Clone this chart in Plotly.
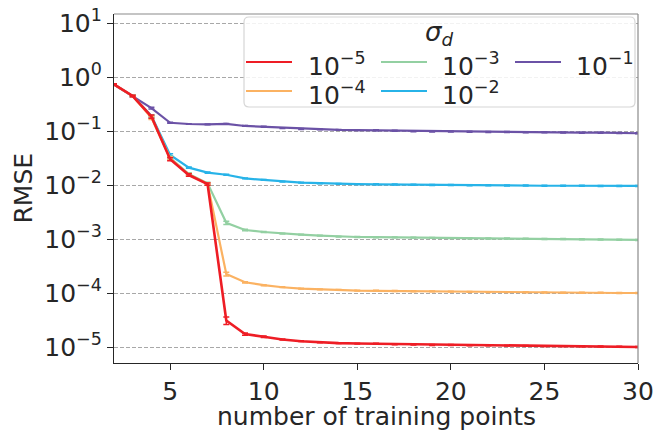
import plotly.graph_objects as go

# Training-set sizes
n_points = list(range(2, 31))

# RMSE per noise level sigma_d (mean over repeats) and its spread
rmse_1e5 = [0.73, 0.445, 0.185, 0.030, 0.0153, 0.0104, 3.1e-5, 1.74e-5, 1.55e-5, 1.38e-5,
            1.28e-5, 1.22e-5, 1.18e-5, 1.16e-5, 1.15e-5, 1.12e-5, 1.11e-5, 1.09e-5, 1.09e-5,
            1.07e-5, 1.08e-5, 1.06e-5, 1.05e-5, 1.04e-5, 1.04e-5, 1.03e-5, 1.02e-5, 1.01e-5, 1.00e-5]
rmse_1e4 = [0.73, 0.445, 0.175, 0.031, 0.0155, 0.0105, 2.25e-4, 1.58e-4, 1.40e-4, 1.28e-4,
            1.21e-4, 1.17e-4, 1.14e-4, 1.11e-4, 1.10e-4, 1.09e-4, 1.08e-4, 1.07e-4, 1.06e-4,
            1.05e-4, 1.04e-4, 1.04e-4, 1.03e-4, 1.02e-4, 1.01e-4, 1.01e-4, 1.01e-4, 1.00e-4, 1.00e-4]
rmse_1e3 = [0.73, 0.445, 0.185, 0.032, 0.016, 0.0108, 2.0e-3, 1.47e-3, 1.35e-3, 1.26e-3,
            1.21e-3, 1.16e-3, 1.11e-3, 1.09e-3, 1.08e-3, 1.07e-3, 1.06e-3, 1.05e-3, 1.04e-3,
            1.03e-3, 1.02e-3, 1.02e-3, 1.01e-3, 1.00e-3, 1.00e-3, 0.99e-3, 0.98e-3, 0.97e-3, 0.96e-3]
rmse_1e2 = [0.73, 0.445, 0.19, 0.036, 0.021, 0.017, 0.0155, 0.0133, 0.0124, 0.0116,
            0.0111, 0.0108, 0.0105, 0.0104, 0.0103, 0.0102, 0.0101, 0.0100, 0.0100,
            0.0099, 0.0099, 0.0098, 0.0098, 0.0097, 0.0097, 0.0097, 0.0096, 0.0096, 0.0096]
rmse_1e1 = [0.73, 0.445, 0.265, 0.142, 0.135, 0.133, 0.136, 0.124, 0.120, 0.113,
            0.109, 0.107, 0.105, 0.104, 0.103, 0.101, 0.099, 0.098, 0.098,
            0.097, 0.096, 0.096, 0.095, 0.095, 0.094, 0.093, 0.093, 0.092, 0.091]

err_1e5 = [0.02, 0.015, 0.012, 0.002, 0.0008, 0.0005, 0.5e-5, 0.8e-6, 0.5e-6, 0.3e-6,
           0.2e-6, 0.2e-6, 0.2e-6, 0.2e-6, 0.2e-6, 0.2e-6, 0.2e-6, 0.2e-6, 0.2e-6,
           0.2e-6, 0.2e-6, 0.2e-6, 0.2e-6, 0.2e-6, 0.2e-6, 0.2e-6, 0.2e-6, 0.2e-6, 0.2e-6]
err_1e4 = [0.02, 0.015, 0.012, 0.002, 0.0008, 0.0005, 1.8e-5, 4e-6, 3e-6, 2e-6,
           2e-6, 2e-6, 2e-6, 2e-6, 2e-6, 2e-6, 2e-6, 2e-6, 2e-6,
           2e-6, 2e-6, 2e-6, 2e-6, 2e-6, 2e-6, 2e-6, 2e-6, 2e-6, 2e-6]
err_1e3 = [0.02, 0.015, 0.01, 0.002, 0.0008, 0.0005, 1.4e-4, 4e-5, 3e-5, 2e-5,
           2e-5, 2e-5, 2e-5, 2e-5, 2e-5, 2e-5, 2e-5, 2e-5, 2e-5,
           2e-5, 2e-5, 2e-5, 2e-5, 2e-5, 2e-5, 2e-5, 2e-5, 2e-5, 2e-5]
err_1e2 = [0.02, 0.015, 0.008, 0.002, 0.0006, 0.0004, 0.0003, 0.0002, 0.0002, 0.0002,
           0.0002, 0.0002, 0.0002, 0.0002, 0.0002, 0.0002, 0.0002, 0.0002, 0.0002,
           0.0002, 0.0002, 0.0002, 0.0002, 0.0002, 0.0002, 0.0002, 0.0002, 0.0002, 0.0002]
err_1e1 = [0.02, 0.015, 0.01, 0.003, 0.002, 0.002, 0.002, 0.002, 0.002, 0.002,
           0.002, 0.002, 0.002, 0.002, 0.002, 0.002, 0.002, 0.002, 0.002,
           0.002, 0.002, 0.002, 0.002, 0.002, 0.002, 0.002, 0.002, 0.002, 0.002]

series_labels = ["10<sup>\u22125</sup>", "10<sup>\u22124</sup>", "10<sup>\u22123</sup>",
                 "10<sup>\u22122</sup>", "10<sup>\u22121</sup>"]
series_values = [rmse_1e5, rmse_1e4, rmse_1e3, rmse_1e2, rmse_1e1]
series_errors = [err_1e5, err_1e4, err_1e3, err_1e2, err_1e1]
series_colors = ["#ee1d25", "#fbb262", "#93d0a2", "#27b3e8", "#6b52a6"]

x_ticks = [5, 10, 15, 20, 25, 30]
y_ticks = [1e-5, 1e-4, 1e-3, 1e-2, 1e-1, 1e0, 1e1]
y_ticktext = ["10<sup>\u22125</sup>", "10<sup>\u22124</sup>", "10<sup>\u22123</sup>",
              "10<sup>\u22122</sup>", "10<sup>\u22121</sup>", "10<sup>0</sup>", "10<sup>1</sup>"]

W, H = 654, 431
L, R, T, B = 114, 638, 14, 363
TXT = "#262626"
FONT = "DejaVu Sans"
FS = 25


def px(x):
    return (x - L) / (R - L)


def py(y):
    return (B - y) / (B - T)


fig = go.Figure()

# draw the largest noise level first so the low-noise curves sit on top
for i in reversed(range(len(series_values))):
    fig.add_trace(go.Scatter(
        x=n_points, y=series_values[i], mode="lines",
        line=dict(color=series_colors[i], width=2.6 if i == 0 else 2.2),
        error_y=dict(type="data", array=series_errors[i], color=series_colors[i],
                     thickness=1.5, width=3),
        name=series_labels[i], showlegend=False,
    ))

fig.update_xaxes(
    range=[2, 30], tickvals=x_ticks, ticks="outside", ticklen=6, tickwidth=1.2,
    tickcolor=TXT, showline=True, linecolor=TXT, linewidth=1.2, showgrid=False,
    zeroline=False, automargin=False, tickfont=dict(size=FS, color=TXT, family=FONT),
)
fig.update_yaxes(
    type="log", range=[-5.296, 1.167], tickvals=y_ticks, ticktext=y_ticktext,
    ticks="outside", ticklen=6, tickwidth=1.2, tickcolor=TXT, showline=True,
    linecolor=TXT, linewidth=1.2, showgrid=True, gridcolor="#a8a8a8", gridwidth=1,
    griddash="4px,2px", zeroline=False, automargin=False,
    tickfont=dict(size=FS, color=TXT, family=FONT),
)

# axis titles
fig.add_annotation(xref="paper", yref="paper", x=0.5, y=py(417),
                   text="number of training points", showarrow=False,
                   xanchor="center", yanchor="middle",
                   font=dict(size=FS, color=TXT, family=FONT))
fig.add_annotation(xref="paper", yref="paper", x=px(23), y=0.5, text="RMSE",
                   textangle=-90, showarrow=False, xanchor="center", yanchor="middle",
                   font=dict(size=FS, color=TXT, family=FONT))

# lighter top and right spines
fig.add_shape(type="line", xref="paper", yref="paper", x0=0, x1=1, y0=1, y1=1,
              line=dict(color="#8a8a8a", width=1.2), layer="above")
fig.add_shape(type="line", xref="paper", yref="paper", x0=1, x1=1, y0=0, y1=1,
              line=dict(color="#8a8a8a", width=1.2), layer="above")

# legend frame with rounded corners
bx0, bx1, by0, by1, rr = 244, 635, 17, 107, 5
path = (f"M {px(bx0 + rr)},{py(by0)} L {px(bx1 - rr)},{py(by0)} "
        f"Q {px(bx1)},{py(by0)} {px(bx1)},{py(by0 + rr)} "
        f"L {px(bx1)},{py(by1 - rr)} Q {px(bx1)},{py(by1)} {px(bx1 - rr)},{py(by1)} "
        f"L {px(bx0 + rr)},{py(by1)} Q {px(bx0)},{py(by1)} {px(bx0)},{py(by1 - rr)} "
        f"L {px(bx0)},{py(by0 + rr)} Q {px(bx0)},{py(by0)} {px(bx0 + rr)},{py(by0)} Z")
fig.add_shape(type="path", xref="paper", yref="paper", path=path,
              line=dict(color="#d6d6d6", width=1.2), fillcolor="rgba(255,255,255,0.85)",
              layer="above")

fig.add_annotation(xref="paper", yref="paper", x=px(439), y=py(33),
                   text="<i>\u03c3</i><sub><i>d</i></sub>", showarrow=False,
                   xanchor="center", yanchor="middle",
                   font=dict(size=26, color=TXT, family=FONT))

# legend entries, filled column by column (3 columns)
col_x = [(246, 306), (381, 440), (515, 574)]
row_y = [62, 91]
for i, (lab, col) in enumerate(zip(series_labels, series_colors)):
    c, r = divmod(i, 2)
    lx, tx = col_x[c]
    ry = row_y[r]
    fig.add_shape(type="line", xref="paper", yref="paper", x0=px(lx), x1=px(lx + 46),
                  y0=py(ry), y1=py(ry), line=dict(color=col, width=2.2), layer="above")
    fig.add_annotation(xref="paper", yref="paper", x=px(tx), y=py(ry + 2), text=lab,
                       showarrow=False, xanchor="left", yanchor="middle",
                       font=dict(size=FS, color=TXT, family=FONT))

fig.update_layout(
    width=W, height=H, margin=dict(l=L, r=W - R, t=T, b=H - B),
    plot_bgcolor="white", paper_bgcolor="white",
)

fig.write_html("out.html")
